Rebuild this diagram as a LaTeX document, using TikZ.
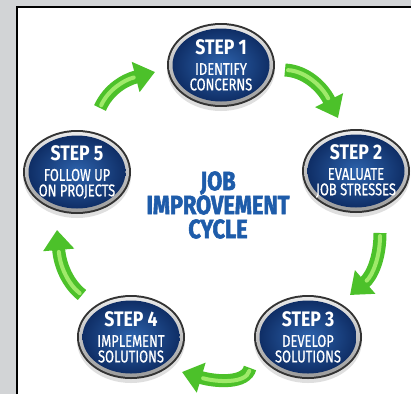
\documentclass[tikz,border=0pt]{standalone}
\usepackage{fontspec}
\usetikzlibrary{shapes.geometric,arrows.meta,calc}
\newfontfamily\condfont[FakeStretch=0.76,FakeBold=0.6]{Fira Sans}
\newfontfamily\stepfont[FakeStretch=0.84]{Fira Sans}
\newfontfamily\titlefont[FakeStretch=0.82,FakeBold=2]{Fira Sans}
\definecolor{bgray}{HTML}{D2D4D6}
\definecolor{blueIn}{HTML}{2D63AD}
\definecolor{blueOut}{HTML}{0F2E66}
\definecolor{titleblue}{HTML}{1E5CAA}
\definecolor{agreen}{HTML}{4CC12A}
\definecolor{ahigh}{HTML}{9FEA6A}
\tikzset{
  stepnode/.style={ellipse, minimum width=108pt, minimum height=84pt, inner sep=0pt,
    fill=black!80,
    path picture={
      \shade[top color=white!92!black, bottom color=black!40]
        (path picture bounding box.center) ellipse [x radius=52pt, y radius=40pt];
      \shade[inner color=blueIn, outer color=blueOut]
        (path picture bounding box.center) ellipse [x radius=48.5pt, y radius=36.5pt];
    }},
  shadowel/.style={fill=black!35, opacity=0.35},
  steptext/.style={text=white, align=center, font=\condfont\fontsize{17}{15.5}\selectfont},
  greenarrow/.style={draw=agreen, line width=13pt, -{Triangle[width=30pt,length=20pt]}},
  greenhigh/.style={draw=ahigh, line width=4pt, line cap=round, shorten >=22pt, shorten <=3pt},
}
\newcommand{\stephead}[1]{{\stepfont\bfseries\fontsize{21}{19}\selectfont #1}}
\begin{document}
\begin{tikzpicture}[x=1pt,y=-1pt]
\useasboundingbox (0,0) rectangle (411,394);
\fill[bgray] (0,0) rectangle (411,394);
\fill[white] (17,7) rectangle (411,394);
\draw[black, line width=2pt] (17,394) -- (17,7) -- (411,7);

% shadows
\fill[shadowel] (221,69) ellipse [x radius=54pt, y radius=42pt];
\fill[shadowel] (356,175) ellipse [x radius=54pt, y radius=42pt];
\fill[shadowel] (308,341) ellipse [x radius=54pt, y radius=42pt];
\fill[shadowel] (131,341) ellipse [x radius=54pt, y radius=42pt];
\fill[shadowel] (77,176) ellipse [x radius=54pt, y radius=42pt];

% ellipses
\node[stepnode] (s1) at (221,65) {};
\node[stepnode] (s2) at (356,171) {};
\node[stepnode] (s3) at (308,337) {};
\node[stepnode] (s4) at (131,337) {};
\node[stepnode] (s5) at (77,172) {};

% texts
\node[steptext] (t1) at (s1) {\stephead{STEP 1}\\[5pt]IDENTIFY\\CONCERNS};
\node[steptext] (t2) at (s2) {\stephead{STEP 2}\\[5pt]EVALUATE\\JOB STRESSES};
\node[steptext] (t3) at (s3) {\stephead{STEP 3}\\[5pt]DEVELOP\\SOLUTIONS};
\node[steptext] (t4) at (s4) {\stephead{STEP 4}\\[5pt]IMPLEMENT\\SOLUTIONS};
\node[steptext] (t5) at (s5) {\stephead{STEP 5}\\[5pt]FOLLOW UP\\ON PROJECTS};

\node[text=titleblue, align=center, font=\titlefont\bfseries\fontsize{26.5}{24}\selectfont] (title) at (218,205) {JOB\\IMPROVEMENT\\CYCLE};

% arrow end points
\coordinate (a1s) at ($(s1)+(64,5)$);
\coordinate (a1e) at ($(s2)+(-18,-53)$);
\coordinate (a2s) at ($(s2)+(24,62)$);
\coordinate (a2e) at ($(s3)+(42,-42)$);
\coordinate (a3s) at ($(s3)+(-58,31)$);
\coordinate (a3e) at ($(s4)+(51,35)$);
\coordinate (a4s) at ($(s4)+(-49,-42)$);
\coordinate (a4e) at ($(s5)+(-20,58)$);
\coordinate (a5s) at ($(s5)+(23,-64)$);
\coordinate (a5e) at ($(s1)+(-66,7)$);

% arrows
\draw[greenarrow] (a1s) .. controls (305,71) and (322,86) .. (a1e);
\draw[greenhigh] (a1s) .. controls (305,71) and (322,86) .. (a1e);
\draw[greenarrow] (a2s) .. controls (380,258) and (372,276) .. (a2e);
\draw[greenhigh] (a2s) .. controls (380,258) and (372,276) .. (a2e);
\draw[greenarrow] (a3s) .. controls (246,384) and (216,382) .. (a3e);
\draw[greenhigh] (a3s) .. controls (246,384) and (216,382) .. (a3e);
\draw[greenarrow] (a4s) .. controls (68,284) and (60,266) .. (a4e);
\draw[greenhigh] (a4s) .. controls (68,284) and (60,266) .. (a4e);
\draw[greenarrow] (a5s) .. controls (108,90) and (124,80) .. (a5e);
\draw[greenhigh] (a5s) .. controls (108,90) and (124,80) .. (a5e);
\end{tikzpicture}
\end{document}
